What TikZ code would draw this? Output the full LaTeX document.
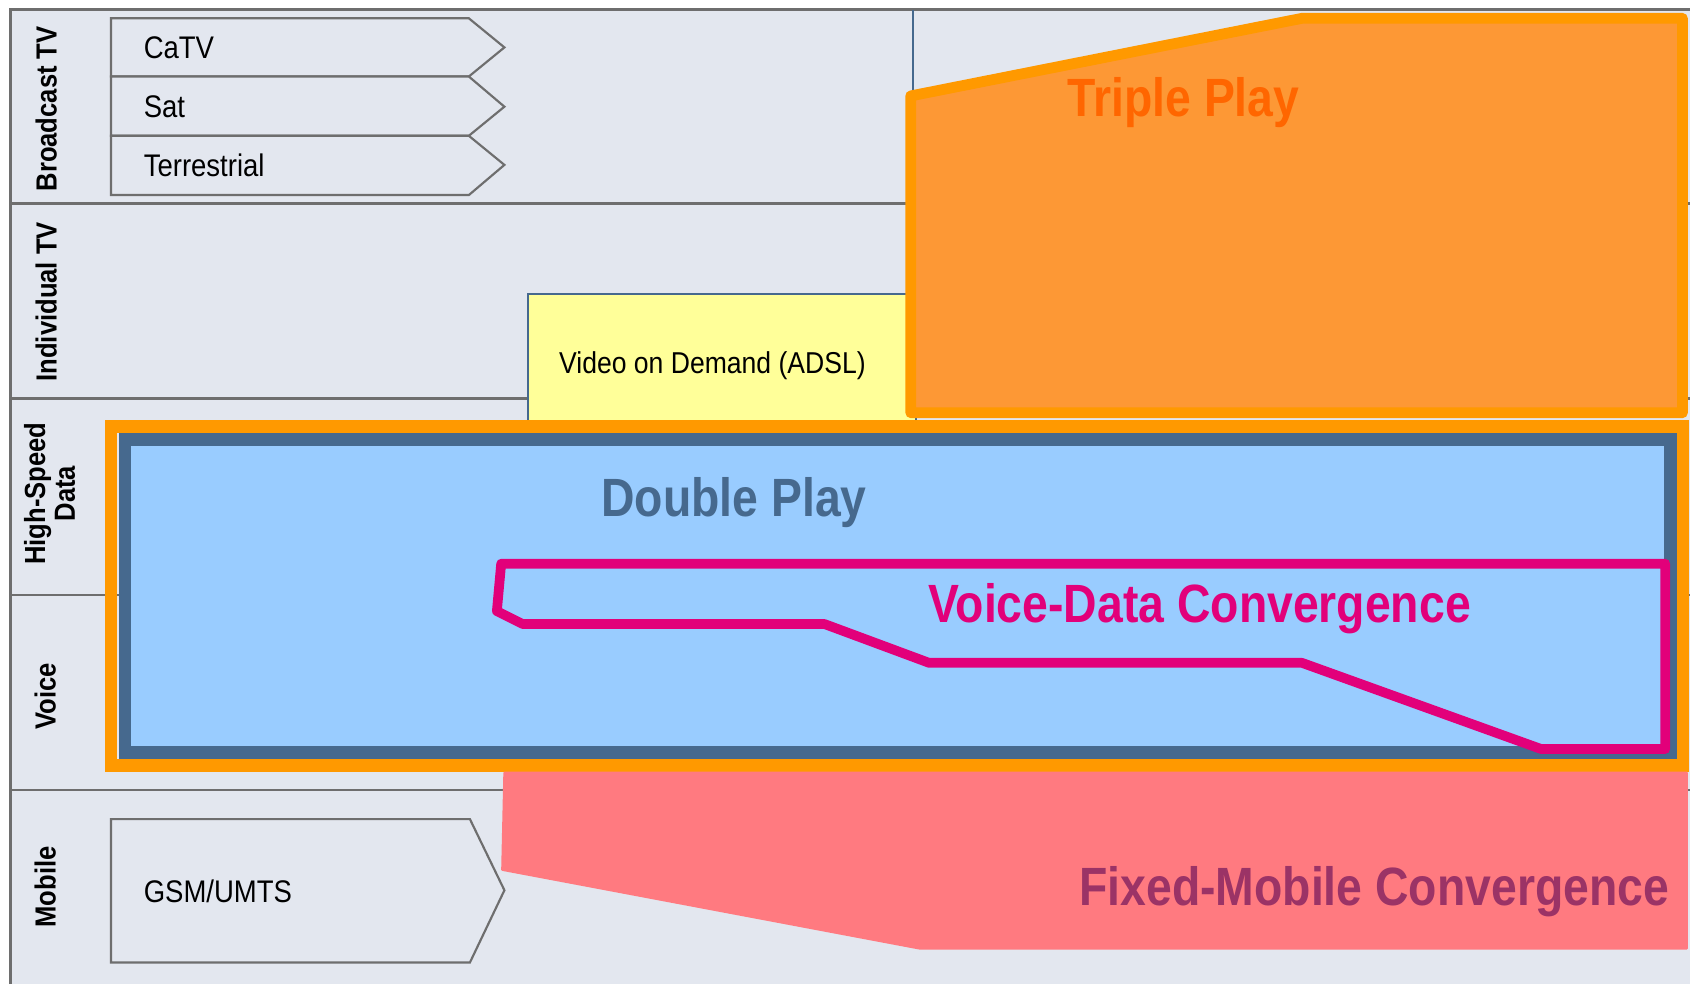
\documentclass[tikz,border=0pt]{standalone}
\usepackage{fontspec}
\setmainfont{Liberation Sans}[FakeStretch=0.88]
\newfontfamily\ttlfont{Liberation Sans}[FakeStretch=0.86]
\definecolor{bgc}{HTML}{E3E7EF}
\definecolor{gridc}{HTML}{6E6E6E}
\definecolor{slate}{HTML}{46698E}
\definecolor{vodc}{HTML}{FFFF99}
\definecolor{tpfill}{HTML}{FD9835}
\definecolor{tpline}{HTML}{FF9900}
\definecolor{tptext}{HTML}{FF6600}
\definecolor{dpfill}{HTML}{99CCFF}
\definecolor{magc}{HTML}{E2007A}
\definecolor{fmcfill}{HTML}{FF7A80}
\definecolor{fmctext}{HTML}{9B3366}
\begin{document}
\begin{tikzpicture}[x=0.5pt,y=-0.5pt,
  gridline/.style={draw=gridc,line width=1.25pt},
  arrowbox/.style={draw=gridc,line width=1pt,fill=bgc},
  lbl/.style={inner sep=0pt,anchor=base west,font=\fontsize{14.5}{16}\selectfont},
  rowlbl/.style={inner sep=0pt,rotate=90,align=center,font=\bfseries\fontsize{13.5}{13.8}\selectfont},
  title/.style={inner sep=0pt,anchor=base,font=\ttlfont\bfseries\fontsize{25}{28}\selectfont}]
\useasboundingbox (0,0) rectangle (1568,913);
\fill[bgc] (10,9) rectangle (1568,913);
% grid
\draw[gridline] (10,913) -- (10,9) -- (1568,9);
\draw[gridline] (10,189) -- (1568,189);
\draw[gridline] (10,370) -- (1568,370);
\draw[gridline] (10,552) -- (1568,552);
\draw[gridline] (10,733) -- (1568,733);
\draw[slate,line width=1pt] (847,9) -- (847,189);
% arrows
\draw[arrowbox] (103,17) -- (435,17) -- (468,44) -- (435,71) -- (103,71) -- cycle;
\draw[arrowbox] (103,71) -- (435,71) -- (468,99) -- (435,126) -- (103,126) -- cycle;
\draw[arrowbox] (103,126) -- (435,126) -- (468,153) -- (435,181) -- (103,181) -- cycle;
\draw[arrowbox] (103,760) -- (436,760) -- (468,826) -- (436,893) -- (103,893) -- cycle;
% VoD
\draw[fill=vodc,draw=slate,line width=1pt] (490,392) -- (490,273) -- (850,273) -- (850,392);
% Triple play
\draw[fill=tpfill,draw=tpline,line width=5pt,line join=round]
  (845,383) -- (845,89) -- (1208,17) -- (1561,17) -- (1561,383) -- cycle;
% Double play
\draw[tpline,line width=6pt] (103,396) rectangle (1561,710);
\draw[fill=dpfill,draw=slate,line width=6pt] (116,408) rectangle (1550,698);
% Voice-Data
\draw[magc,line width=4.5pt,line join=round]
  (465,523) -- (1545,523) -- (1545,695) -- (1430,695) -- (1208,615) -- (862,615)
  -- (765,579) -- (485,579) -- (461,567) -- cycle;
% FMC
\filldraw[fill=fmcfill,draw=fmcfill,line width=1pt,line join=round]
  (468,717) -- (1565,717) -- (1565,880) -- (853,880) -- (466,807) -- cycle;
% texts
\node[lbl] (catv) at (133,54) {CaTV};
\node[lbl] (sat) at (133,109) {Sat};
\node[lbl] (terr) at (133,164) {Terrestrial};
\node[lbl] (gsm) at (133,837) {GSM/UMTS};
\node[lbl,anchor=base,font=\fontsize{14}{16}\selectfont] (vod) at (661,347) {Video on Demand (ADSL)};
\node[rowlbl] (rbtv) at (43,101) {Broadcast TV};
\node[rowlbl] (ritv) at (43,280) {Individual TV};
\node[rowlbl] (rhsd) at (46,458) {High-Speed\\Data};
\node[rowlbl] (rvoice) at (42,646) {Voice};
\node[rowlbl] (rmob) at (42,823) {Mobile};
\node[title,text=tptext] (ttp) at (1098,108) {Triple Play};
\node[title,text=slate] (tdp) at (681,479) {Double Play};
\node[title,text=magc] (tvd) at (1113,578) {Voice-Data Convergence};
\node[title,text=fmctext] (tfmc) at (1275,840) {Fixed-Mobile Convergence};
\end{tikzpicture}
\end{document}
